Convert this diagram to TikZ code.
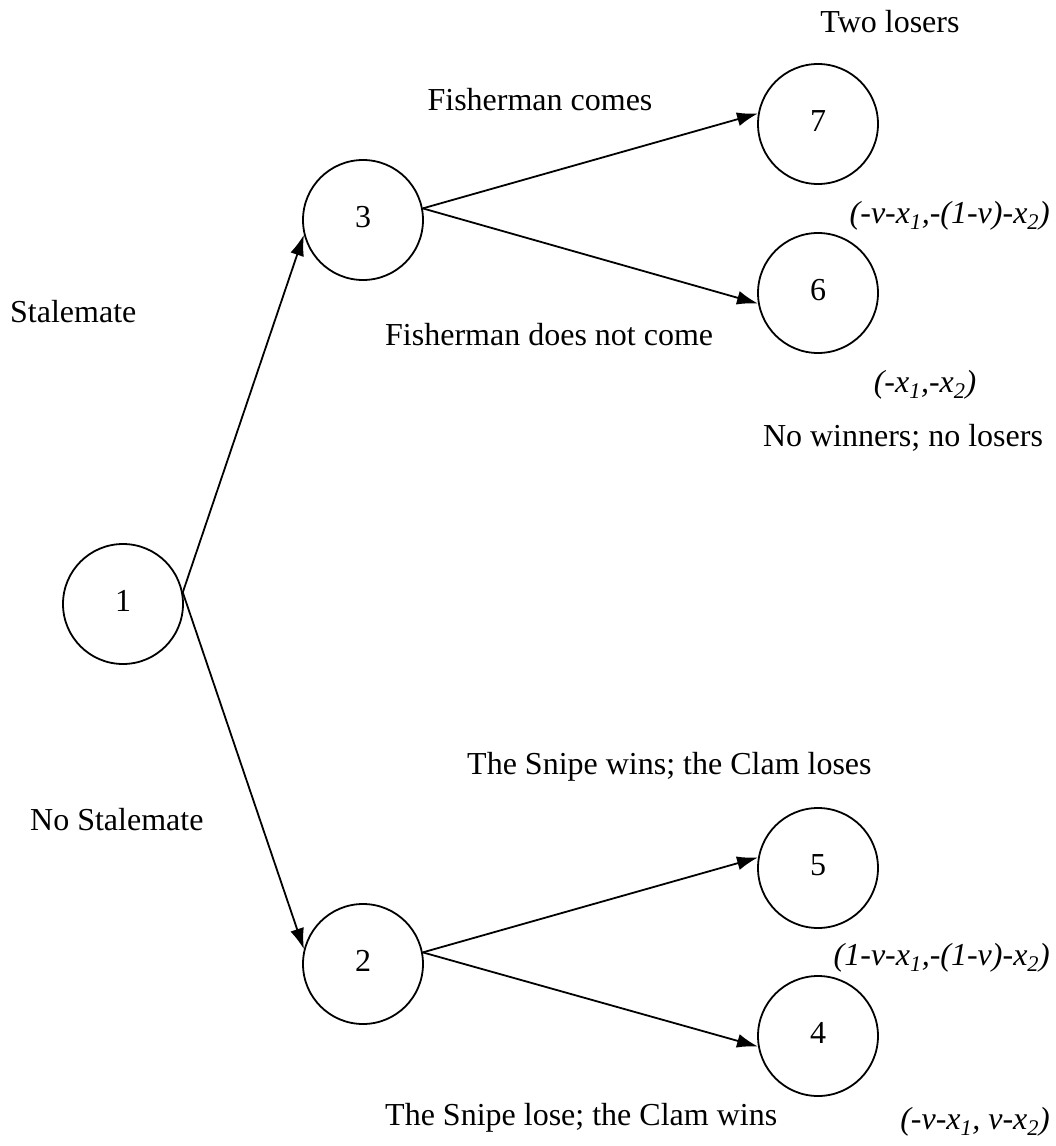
\documentclass[tikz,border=0pt]{standalone}
\usepackage{fontspec}
\setmainfont{Liberation Serif}
\usetikzlibrary{arrows.meta}

\tikzset{
    stage/.style={draw, line width=1.8pt, circle, minimum size=120pt, inner sep=0pt},
    move/.style={line width=1.8pt, -{Latex[length=21pt, width=14pt]}},
    lbl/.style={inner sep=0pt, font=\fontsize{32}{38}\selectfont}
}

\begin{document}
\begin{tikzpicture}[x=1pt, y=-1pt]

    \useasboundingbox (0, 0) rectangle (1055, 1146);

    % The stages
    \node[stage] (s1) at (123, 604) {\raisebox{6pt}{\fontsize{32}{38}\selectfont 1}};
    \node[stage] (s3) at (363, 220) {\raisebox{6pt}{\fontsize{32}{38}\selectfont 3}};
    \node[stage] (s2) at (363, 964) {\raisebox{6pt}{\fontsize{32}{38}\selectfont 2}};

    \node[stage] (s7) at (818, 124) {\raisebox{6pt}{\fontsize{32}{38}\selectfont 7}};
    \node[stage] (s6) at (818, 293) {\raisebox{6pt}{\fontsize{32}{38}\selectfont 6}};
    \node[stage] (s5) at (818, 868) {\raisebox{6pt}{\fontsize{32}{38}\selectfont 5}};
    \node[stage] (s4) at (818, 1036) {\raisebox{6pt}{\fontsize{32}{38}\selectfont 4}};

    

    \draw[move] (s1.11) -- (s3.194);
    \draw[move] (s1.11) -- (s2.166);

    \draw[move] (s3.11) -- (s7.170);
    \draw[move] (s3.11) -- (s6.190);

    \draw[move] (s2.11) -- (s5.170);
    \draw[move] (s2.11) -- (s4.190);

    

    % Texts
    \node[lbl] (t7) at (890, 22) {Two losers};
    \node[lbl] (tfc) at (540, 100) {Fisherman comes};
    \node[lbl, anchor=east] (p7) at (1050, 216) {\itshape (-v-x\textsubscript{1},-(1-v)-x\textsubscript{2})};
    \node[lbl, anchor=west] (tst) at (10, 312) {Stalemate};
    \node[lbl, anchor=west] (tfn) at (385, 335) {Fisherman does not come};
    \node[lbl] (p6) at (925, 385) {\itshape (-x\textsubscript{1},-x\textsubscript{2})};
    \node[lbl] (t6) at (903, 438) {No winners; no losers};

    \node[lbl, anchor=west] (t5) at (467, 767) {The Snipe wins; the Clam loses};
    \node[lbl, anchor=west] (tns) at (30, 820) {No Stalemate};
    \node[lbl, anchor=east] (p5) at (1050, 958) {\itshape (1-v-x\textsubscript{1},-(1-v)-x\textsubscript{2})};
    \node[lbl, anchor=west] (t4) at (385, 1118) {The Snipe lose; the Clam wins};
    \node[lbl, anchor=east] (p4) at (1050, 1122) {\itshape (-v-x\textsubscript{1}, v-x\textsubscript{2})};

\end{tikzpicture}
\end{document}
